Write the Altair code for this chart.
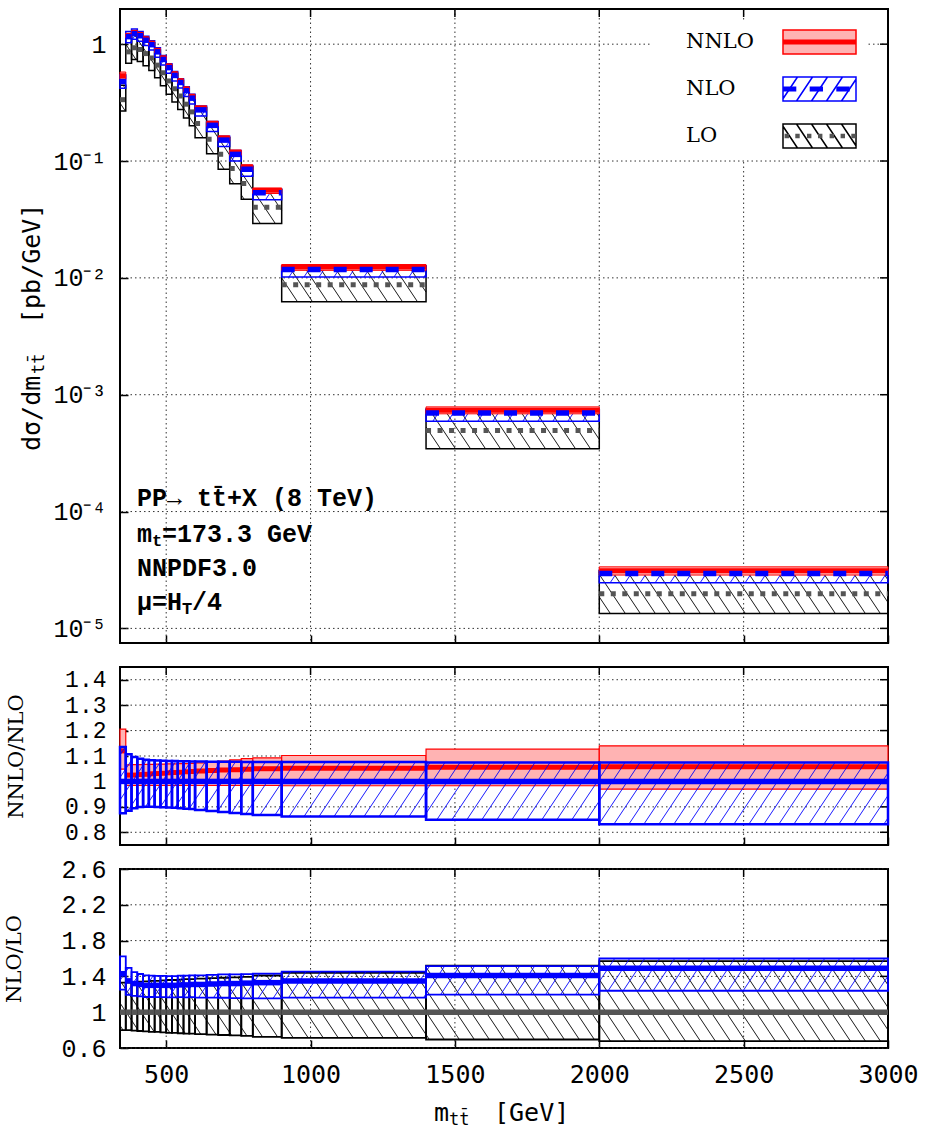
import math
import altair as alt
import pandas as pd

# ---------------- values ----------------
bin_lo = [340, 360, 380, 400, 420, 440, 460, 480, 500, 520, 540, 560, 580,
          600, 640, 680, 720, 760, 800, 900, 1400, 2000]
bin_hi = [360, 380, 400, 420, 440, 460, 480, 500, 520, 540, 560, 580, 600,
          640, 680, 720, 760, 800, 900, 1400, 2000, 3000]
# NLO central value [pb/GeV] (main panel)
nlo_central = [0.479, 1.16, 1.23, 1.18, 1.08, 0.99, 0.86, 0.74, 0.63, 0.54, 0.47,
               0.40, 0.345, 0.274, 0.202, 0.151, 0.114, 0.085, 0.0536, 0.0118,
               6.98e-4, 2.95e-5]
# NNLO/NLO panel
nnlo_over_nlo = [1.12, 1.025, 1.025, 1.027, 1.028, 1.03, 1.031, 1.032, 1.034, 1.035,
                 1.036, 1.038, 1.039, 1.041, 1.043, 1.045, 1.046, 1.048, 1.05,
                 1.052, 1.056, 1.058]
nnlo_band_lo = [1.048, 0.984, 0.984, 0.984, 0.984, 0.984, 0.984, 0.984, 0.984, 0.984,
                0.984, 0.984, 0.984, 0.984, 0.984, 0.984, 0.984, 0.984, 0.984,
                0.983, 0.983, 0.97]
nnlo_band_hi = [1.206, 1.065, 1.066, 1.066, 1.067, 1.067, 1.068, 1.068, 1.069, 1.069,
                1.07, 1.07, 1.071, 1.073, 1.076, 1.08, 1.085, 1.09, 1.093, 1.102,
                1.127, 1.14]
nlo_band_lo = [0.875, 0.885, 0.895, 0.899, 0.9, 0.9, 0.899, 0.898, 0.897, 0.896, 0.895,
               0.893, 0.892, 0.888, 0.884, 0.88, 0.876, 0.872, 0.868, 0.862, 0.849,
               0.832]
nlo_band_hi = [1.135, 1.107, 1.096, 1.089, 1.085, 1.083, 1.082, 1.081, 1.08, 1.08,
               1.079, 1.079, 1.078, 1.078, 1.077, 1.077, 1.077, 1.076, 1.076, 1.076,
               1.074, 1.074]
# NLO/LO panel
nlo_over_lo = [1.43, 1.35, 1.32, 1.31, 1.30, 1.30, 1.30, 1.30, 1.30, 1.30, 1.305,
               1.305, 1.31, 1.31, 1.315, 1.32, 1.32, 1.325, 1.33, 1.35, 1.41, 1.49]
lo_band_lo = [0.80, 0.80, 0.795, 0.79, 0.785, 0.78, 0.78, 0.775, 0.77, 0.77, 0.765,
              0.76, 0.76, 0.755, 0.75, 0.745, 0.74, 0.735, 0.725, 0.713, 0.695, 0.676]
lo_band_hi = [1.33, 1.33, 1.335, 1.34, 1.345, 1.35, 1.35, 1.355, 1.36, 1.36, 1.365,
              1.37, 1.37, 1.375, 1.38, 1.385, 1.39, 1.395, 1.41, 1.44, 1.52, 1.57]

order_names = ["NNLO", "NLO", "LO"]
x_ticks = [500, 1000, 1500, 2000, 2500, 3000]
main_y_ticks = [1, 0.1, 0.01, 0.001, 1e-4, 1e-5]
main_y_tick_labels = ["1", "10⁻¹", "10⁻²", "10⁻³", "10⁻⁴", "10⁻⁵"]
r1_ticks = [0.8, 0.9, 1.0, 1.1, 1.2, 1.3, 1.4]
r2_ticks = [0.6, 1.0, 1.4, 1.8, 2.2, 2.6]
annot_full = ["PP→ tt\u0304+X (8 TeV)", "NNPDF3.0"]
annot_full_y = [1.3e-4, 3.3e-5]
annot_head = ["m", "μ=H"]
annot_sub = ["t", "T"]
annot_tail = ["=173.3 GeV", "/4"]
annot_split_y = [6.4e-5, 1.68e-5]
ytitle_parts = ["dσ/dm", "tt\u0304", "[pb/GeV]"]
xtitle_parts = ["m", "tt\u0304", "[GeV]"]

# ---------------- layout / style ----------------
X_DOM = [340, 3000]
Y_MAIN = [7.5e-6, 2.0]
Y_R1 = [0.75, 1.45]
Y_R2 = [0.6, 2.6]
W, H_MAIN, H_R1, H_R2 = 768, 634, 178, 179
PINK, RED, BLUE, BLACK, GRAY = "#ffb3b3", "#ff0000", "#0000ff", "#000000", "#555555"
MONO, SMONO, SERIF = "Liberation Mono", "DejaVu Sans Mono", "DejaVu Serif"

# ---------------- tables ----------------
rows_main, rows_r1, rows_r2 = [], [], []
for i in range(len(bin_lo)):
    n = nlo_central[i]
    lo = n / nlo_over_lo[i]
    rows_main.append(dict(x0=bin_lo[i], x1=bin_hi[i],
                          nnlo=n * nnlo_over_nlo[i], nnlo_lo=n * nnlo_band_lo[i], nnlo_hi=n * nnlo_band_hi[i],
                          nlo=n, nlo_lo=n * nlo_band_lo[i], nlo_hi=n * nlo_band_hi[i],
                          lo=lo, lo_lo=lo * lo_band_lo[i], lo_hi=lo * lo_band_hi[i]))
    rows_r1.append(dict(x0=bin_lo[i], x1=bin_hi[i], k=nnlo_over_nlo[i],
                        nnlo_lo=nnlo_band_lo[i], nnlo_hi=nnlo_band_hi[i],
                        nlo_lo=nlo_band_lo[i], nlo_hi=nlo_band_hi[i], one=1.0))
    rows_r2.append(dict(x0=bin_lo[i], x1=bin_hi[i], k=nlo_over_lo[i],
                        nlo_lo=nlo_band_lo[i] * nlo_over_lo[i], nlo_hi=nlo_band_hi[i] * nlo_over_lo[i],
                        lo_lo=lo_band_lo[i], lo_hi=lo_band_hi[i], one=1.0))
df_main, df_r1, df_r2 = pd.DataFrame(rows_main), pd.DataFrame(rows_r1), pd.DataFrame(rows_r2)


def hatch_segments(df, lo_col, hi_col, ydom, height, log, direction, spacing=15.0, slope=1.5):
    fy = math.log10 if log else (lambda v: v)
    kx = W / (X_DOM[1] - X_DOM[0])
    ky = height / (fy(ydom[1]) - fy(ydom[0]))
    sgn = 1 if direction == "/" else -1

    def iy(v):
        t = fy(ydom[0]) + v / ky
        return 10 ** t if log else t
    out = []
    for _, r in df.iterrows():
        U0, U1 = (r.x0 - X_DOM[0]) * kx, (r.x1 - X_DOM[0]) * kx
        V0, V1 = (fy(r[lo_col]) - fy(ydom[0])) * ky, (fy(r[hi_col]) - fy(ydom[0])) * ky
        if sgn > 0:
            cmin, cmax = U0 - V1 / slope, U1 - V0 / slope
        else:
            cmin, cmax = U0 + V0 / slope, U1 + V1 / slope
        for k in range(math.ceil(cmin / spacing), math.floor(cmax / spacing) + 1):
            c = k * spacing
            if sgn > 0:
                ua, ub = max(U0, c + V0 / slope), min(U1, c + V1 / slope)
            else:
                ua, ub = max(U0, c - V1 / slope), min(U1, c - V0 / slope)
            if ub - ua < 0.2:
                continue
            va, vb = sgn * slope * (ua - c), sgn * slope * (ub - c)
            out.append(dict(xa=X_DOM[0] + ua / kx, xb=X_DOM[0] + ub / kx, ya=iy(va), yb=iy(vb)))
    return pd.DataFrame(out)


# ---------------- legend symbol paths ----------------
UNIT = 13.0                 # px per path unit (symbol size = 26^2)
BW = 36.5 / UNIT            # half width of the 73 px key box
HB = 12.0 / UNIT            # half height of the 24 px key box


def rect_path(x0, x1, y0, y1):
    return f"M{x0:.3f},{y0:.3f}L{x1:.3f},{y0:.3f}L{x1:.3f},{y1:.3f}L{x0:.3f},{y1:.3f}Z"


def unit_hatch(direction, spacing=15.0 / UNIT, slope=1.5):
    sgn = 1 if direction == "/" else -1
    U0, U1, V0, V1 = -BW, BW, -HB, HB
    if sgn > 0:
        cmin, cmax = U0 - V1 / slope, U1 - V0 / slope
    else:
        cmin, cmax = U0 + V0 / slope, U1 + V1 / slope
    p = ""
    for k in range(math.ceil(cmin / spacing), math.floor(cmax / spacing) + 1):
        c = k * spacing
        if sgn > 0:
            ua, ub = max(U0, c + V0 / slope), min(U1, c + V1 / slope)
        else:
            ua, ub = max(U0, c - V1 / slope), min(U1, c - V0 / slope)
        if ub - ua < 0.02:
            continue
        va, vb = sgn * slope * (ua - c), sgn * slope * (ub - c)
        p += f"M{ua:.3f},{-va:.3f}L{ub:.3f},{-vb:.3f}"
    return p


def px(v):
    return (v - 36.5) / UNIT


box = rect_path(-BW, BW, -HB, HB)
corners = f"M{-BW:.3f},{-HB:.3f}L{-BW:.3f},{-HB:.3f}M{BW:.3f},{HB:.3f}L{BW:.3f},{HB:.3f}"
paths_a = [box, box + unit_hatch("/"), box + unit_hatch("\\")]
dash_h = 2.4 / UNIT
nlo_dash = "".join(rect_path(px(a), px(b), -dash_h, dash_h) for a, b in [(0, 13.3), (26.7, 40), (53.3, 66.7)])
dot_h = 2.2 / UNIT
lo_dots = "".join(rect_path(px(c - 2.2), px(c + 2.2), -dot_h, dot_h)
                  for c in [3.8, 14.5, 26.2, 37.2, 48.8, 59.8, 70.5])
paths_b = [corners + rect_path(-BW, BW, -2.6 / UNIT, 2.6 / UNIT), corners + nlo_dash, corners + lo_dots]
paths_c = [corners] * 3

# ---------------- axes ----------------
ax_kw = dict(grid=False, domain=False, tickSize=8, offset=-8, tickColor="black", tickWidth=1.5,
             labelFlush=False, labelOverlap=False, labelColor="black", titleColor="black")

label_expr = "'" + main_y_tick_labels[-1] + "'"
for v, lab in reversed(list(zip(main_y_ticks[:-1], main_y_tick_labels[:-1]))):
    label_expr = f"datum.value > {v / math.sqrt(10):.4g} ? '{lab}' : ({label_expr})"


def x_axis(show):
    if show:
        return alt.Axis(values=x_ticks, labels=True, format="d", title=None, labelFont=SMONO,
                        labelFontSize=25, labelPadding=14, **ax_kw)
    return alt.Axis(values=x_ticks, labels=False, title=None, **ax_kw)


ax_main_y = alt.Axis(values=main_y_ticks, labelExpr=label_expr, labelFont=MONO, labelFontSize=25,
                     labelPadding=14, title=None, **ax_kw)
ax_r1_y = alt.Axis(values=r1_ticks, format="~g", labelFont=MONO, labelFontSize=23, labelPadding=14,
                   title="NNLO/NLO", titleFont=SERIF, titleFontSize=21, titleFontWeight="normal",
                   titlePadding=38, **ax_kw)
ax_r2_y = alt.Axis(values=r2_ticks, format="~g", labelFont=MONO, labelFontSize=25, labelPadding=14,
                   title="NLO/LO", titleFont=SERIF, titleFontSize=21, titleFontWeight="normal",
                   titlePadding=36, **ax_kw)


def enc_factory(ydom, log, yaxis, xshow):
    ys = alt.Scale(type="log", domain=ydom, nice=False) if log else alt.Scale(domain=ydom, nice=False, zero=False)
    xs = alt.Scale(domain=X_DOM, nice=False, zero=False)

    def X(f):
        return alt.X(f, type="quantitative", scale=xs, axis=x_axis(xshow))

    def Y(f):
        return alt.Y(f, type="quantitative", scale=ys, axis=yaxis)
    return X, Y


GRID = dict(color="#333333", strokeDash=[1.5, 3], strokeWidth=1)
MIRROR = dict(color="black", thickness=1.5, size=16, clip=True, opacity=1)


def grid_layers(X, Y, yticks, ydom):
    gx = alt.Chart(pd.DataFrame({"gx": x_ticks[:-1]})).mark_rule(**GRID).encode(x=X("gx"))
    gy = alt.Chart(pd.DataFrame({"gy": yticks})).mark_rule(**GRID).encode(y=Y("gy"))
    # inward mirror ticks on the right and top frame
    rt = alt.Chart(pd.DataFrame({"gy": yticks, "xr": [X_DOM[1]] * len(yticks)})).mark_tick(
        orient="horizontal", **MIRROR).encode(x=X("xr"), y=Y("gy"))
    tt = alt.Chart(pd.DataFrame({"gx": x_ticks, "yt": [ydom[1]] * len(x_ticks)})).mark_tick(
        orient="vertical", **MIRROR).encode(x=X("gx"), y=Y("yt"))
    return [gx, gy, rt, tt]


def box_layer(df, X, Y, lo, hi, **mk):
    return alt.Chart(df).mark_rect(**mk).encode(x=X("x0"), x2=alt.X2("x1"), y=Y(lo), y2=alt.Y2(hi))


def line_layer(df, X, Y, col, **mk):
    return alt.Chart(df).mark_rule(**mk).encode(x=X("x0"), x2=alt.X2("x1"), y=Y(col))


def hatch_layer(hdf, X, Y, color, width):
    return alt.Chart(hdf).mark_rule(color=color, strokeWidth=width).encode(
        x=X("xa"), y=Y("ya"), x2=alt.X2("xb"), y2=alt.Y2("yb"))


def text_layer(X, Y, text, xv, yv, **mk):
    d = pd.DataFrame({"t": [text], "x": [xv], "y": [yv]})
    return alt.Chart(d).mark_text(**mk).encode(x=X("x"), y=Y("y"), text="t:N")


# ---------------- main panel ----------------
Xm, Ym = enc_factory(Y_MAIN, True, ax_main_y, False)
h_lo_main = hatch_segments(df_main, "lo_lo", "lo_hi", Y_MAIN, H_MAIN, True, "\\")
h_nlo_main = hatch_segments(df_main, "nlo_lo", "nlo_hi", Y_MAIN, H_MAIN, True, "/")

legend_df = pd.DataFrame({"model": order_names, "model2": order_names, "model3": order_names,
                          "xv": [X_DOM[0] - 200] * 3, "yv": [1e-9] * 3})
LEG_X, LEG_Y = 530, 11
leg_common = dict(orient="none", legendX=LEG_X, legendY=LEG_Y, title=None, labelFont=SERIF,
                  labelAlign="left", labelBaseline="middle", labelOffset=0,
                  symbolSize=UNIT * UNIT * 4, symbolStrokeWidth=1.5, rowPadding=17, padding=8,
                  labelLimit=300, symbolOpacity=1)
legA = alt.Legend(fillColor="white", zindex=1, labelColor="transparent", labelFontSize=1,
                  symbolOffset=147.5, **leg_common)
legB = alt.Legend(zindex=2, labelColor="transparent", labelFontSize=1, symbolStrokeColor="transparent",
                  symbolOffset=147.5, **leg_common)
legC = alt.Legend(zindex=3, labelColor="black", labelFontSize=21, symbolStrokeColor="transparent",
                  symbolFillColor="transparent", symbolOffset=0, **leg_common)

dummyA = alt.Chart(legend_df).mark_point(filled=True, clip=True, opacity=1).encode(
    x=Xm("xv"), y=Ym("yv"),
    fill=alt.Fill("model:N", scale=alt.Scale(domain=order_names, range=[PINK, "white", "white"]), legend=legA),
    stroke=alt.Stroke("model:N", scale=alt.Scale(domain=order_names, range=[RED, BLUE, BLACK]), legend=legA),
    shape=alt.Shape("model:N", scale=alt.Scale(domain=order_names, range=paths_a), legend=legA),
)
dummyB = alt.Chart(legend_df).mark_point(filled=True, clip=True, opacity=1).encode(
    x=Xm("xv"), y=Ym("yv"),
    fill=alt.Fill("model2:N", scale=alt.Scale(domain=order_names, range=[RED, BLUE, GRAY]), legend=legB),
    shape=alt.Shape("model2:N", scale=alt.Scale(domain=order_names, range=paths_b), legend=legB),
)
dummyC = alt.Chart(legend_df).mark_point(filled=True, clip=True, opacity=1).encode(
    x=Xm("xv"), y=Ym("yv"),
    shape=alt.Shape("model3:N", scale=alt.Scale(domain=order_names, range=paths_c), legend=legC),
)

txt_kw = dict(align="left", baseline="middle", font=MONO, fontSize=25, fontWeight="bold", color="black")
ann = []
for t, yv in zip(annot_full, annot_full_y):
    ann.append(text_layer(Xm, Ym, t, X_DOM[0], yv, dx=17, **txt_kw))
for i in range(2):
    off = 17 + 15 * len(annot_head[i])
    ann.append(text_layer(Xm, Ym, annot_head[i], X_DOM[0], annot_split_y[i], dx=17, **txt_kw))
    ann.append(text_layer(Xm, Ym, annot_sub[i], X_DOM[0], annot_split_y[i], dx=off, dy=7,
                          align="left", baseline="middle", font=MONO, fontSize=17, fontWeight="bold",
                          color="black"))
    ann.append(text_layer(Xm, Ym, annot_tail[i], X_DOM[0], annot_split_y[i], dx=off + 10, **txt_kw))

# y title of the main panel (rotated, with subscript)
y_mid = math.sqrt(Y_MAIN[0] * Y_MAIN[1])
yt_kw = dict(align="left", baseline="middle", angle=270, font=SMONO, color="black")
ytitle = [
    text_layer(Xm, Ym, ytitle_parts[0], X_DOM[0], y_mid, dx=-125, dy=-88, fontSize=25, **yt_kw),
    text_layer(Xm, Ym, ytitle_parts[1], X_DOM[0], y_mid, dx=-48, dy=-81, fontSize=17, **yt_kw),
    text_layer(Xm, Ym, ytitle_parts[2], X_DOM[0], y_mid, dx=2, dy=-88, fontSize=25, **yt_kw),
]

main = alt.layer(
    *grid_layers(Xm, Ym, main_y_ticks, Y_MAIN),
    box_layer(df_main, Xm, Ym, "lo_lo", "lo_hi", fill="transparent", stroke=BLACK, strokeWidth=1.5),
    hatch_layer(h_lo_main, Xm, Ym, BLACK, 0.9),
    box_layer(df_main, Xm, Ym, "nlo_lo", "nlo_hi", fill="transparent", stroke=BLUE, strokeWidth=1.5),
    hatch_layer(h_nlo_main, Xm, Ym, BLUE, 0.9),
    box_layer(df_main, Xm, Ym, "nnlo_lo", "nnlo_hi", fill=PINK, stroke=RED, strokeWidth=1),
    line_layer(df_main, Xm, Ym, "nnlo", color=RED, strokeWidth=5),
    line_layer(df_main, Xm, Ym, "lo", color=GRAY, strokeWidth=5, strokeDash=[5, 6.5]),
    line_layer(df_main, Xm, Ym, "nlo", color=BLUE, strokeWidth=5.5, strokeDash=[13, 13]),
    *ann, *ytitle,
    dummyA, dummyB, dummyC,
).resolve_scale(fill="independent", stroke="independent", shape="independent").properties(
    width=W, height=H_MAIN)

# ---------------- NNLO/NLO panel ----------------
X1, Y1 = enc_factory(Y_R1, False, ax_r1_y, False)
h_r1 = hatch_segments(df_r1, "nlo_lo", "nlo_hi", Y_R1, H_R1, False, "/")
p_r1 = alt.layer(
    *grid_layers(X1, Y1, r1_ticks, Y_R1),
    box_layer(df_r1, X1, Y1, "nnlo_lo", "nnlo_hi", fill=PINK, stroke=RED, strokeWidth=1.2),
    line_layer(df_r1, X1, Y1, "k", color=RED, strokeWidth=5),
    hatch_layer(h_r1, X1, Y1, BLUE, 0.9),
    box_layer(df_r1, X1, Y1, "nlo_lo", "nlo_hi", fill="transparent", stroke=BLUE, strokeWidth=2.5),
    line_layer(df_r1, X1, Y1, "one", color=BLUE, strokeWidth=5.5),
).properties(width=W, height=H_R1)

# ---------------- NLO/LO panel ----------------
X2, Y2 = enc_factory(Y_R2, False, ax_r2_y, True)
h_r2_lo = hatch_segments(df_r2, "lo_lo", "lo_hi", Y_R2, H_R2, False, "\\")
h_r2_nlo = hatch_segments(df_r2, "nlo_lo", "nlo_hi", Y_R2, H_R2, False, "/")
x_mid = (X_DOM[0] + X_DOM[1]) / 2
xt_kw = dict(align="left", baseline="middle", font=SMONO, color="black")
xtitle = [
    text_layer(X2, Y2, xtitle_parts[0], x_mid, Y_R2[0], dx=-70, dy=65, fontSize=25, **xt_kw),
    text_layer(X2, Y2, xtitle_parts[1], x_mid, Y_R2[0], dx=-55, dy=72, fontSize=17, **xt_kw),
    text_layer(X2, Y2, xtitle_parts[2], x_mid, Y_R2[0], dx=-10, dy=65, fontSize=25, **xt_kw),
]
p_r2 = alt.layer(
    *grid_layers(X2, Y2, r2_ticks, Y_R2),
    hatch_layer(h_r2_lo, X2, Y2, BLACK, 0.9),
    box_layer(df_r2, X2, Y2, "lo_lo", "lo_hi", fill="transparent", stroke=BLACK, strokeWidth=1.8),
    hatch_layer(h_r2_nlo, X2, Y2, BLUE, 0.9),
    box_layer(df_r2, X2, Y2, "nlo_lo", "nlo_hi", fill="transparent", stroke=BLUE, strokeWidth=1.8),
    line_layer(df_r2, X2, Y2, "one", color=GRAY, strokeWidth=5.5),
    line_layer(df_r2, X2, Y2, "k", color=BLUE, strokeWidth=5.5),
    *xtitle,
).properties(width=W, height=H_R2)

chart = alt.vconcat(main, p_r1, p_r2, spacing=24, bounds="flush").resolve_scale(
    x="independent", y="independent", fill="independent", stroke="independent", shape="independent"
).properties(
    padding={"left": 2, "top": 7, "right": 5, "bottom": 2}, background="white"
).configure_view(stroke="black", strokeWidth=2)

chart.save("out.html", embed_options={"renderer": "svg", "actions": False})
